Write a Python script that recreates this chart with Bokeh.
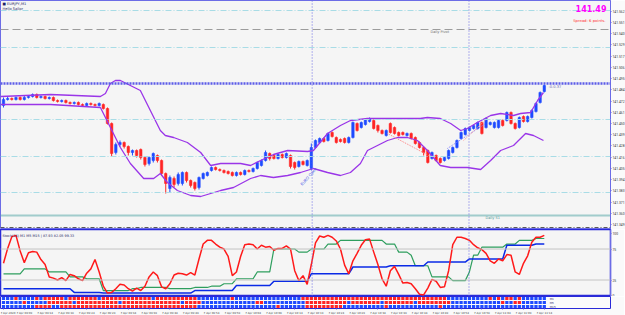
from bokeh.plotting import figure
from bokeh.layouts import column
from bokeh.models import Range1d, Span, Label, FixedTicker, PrintfTickFormatter, ColumnDataSource
from bokeh.embed import file_html
from bokeh.resources import INLINE

# ---------------- data ----------------
symbol_label = "EURJPY,M1"
subtitle_label = "Hello Sailor"
bid_text = "141.49"
spread_text = "Spread: 6 points."
indicator_label = "Stoch(14) M1  M5  M15 | 87.93 82.05 99.33"

bar_open = [141.468,141.474,141.475,141.474,141.476,141.474,141.476,141.477,141.479,141.476,
            141.477,141.475,141.476,141.473,141.472,141.473,141.471,141.470,141.471,141.469,
            141.468,141.470,141.469,141.468,141.469,141.465,141.450,141.421,141.429,141.431,
            141.427,141.421,141.423,141.424,141.416,141.410,141.413,141.418,141.413,141.400,
            141.385,141.395,141.390,141.390,141.401,141.393,141.391,141.386,141.395,141.398,
            141.403,141.406,141.404,141.403,141.402,141.401,141.398,141.401,141.399,141.403,
            141.402,141.405,141.408,141.413,141.420,141.418,141.415,141.419,141.416,141.418,
            141.411,141.407,141.412,141.408,141.405,141.426,141.431,141.435,141.433,141.441,
            141.436,141.434,141.435,141.431,141.436,141.450,141.446,141.449,141.452,141.453,
            141.448,141.443,141.438,141.450,141.446,141.441,141.441,141.438,141.440,141.436,
            141.431,141.426,141.423,141.415,141.418,141.415,141.413,141.415,141.421,141.426,
            141.435,141.439,141.443,141.445,141.445,141.451,141.446,141.449,141.446,141.446,
            141.453,141.453,141.461,141.450,141.446,141.457,141.452,141.456,141.462,141.471,
            141.482]
bar_close = [141.474,141.475,141.474,141.476,141.474,141.476,141.477,141.479,141.476,141.477,
             141.475,141.476,141.473,141.472,141.473,141.471,141.470,141.471,141.469,141.468,
             141.470,141.469,141.468,141.470,141.465,141.450,141.420,141.429,141.431,141.427,
             141.421,141.423,141.418,141.416,141.409,141.416,141.420,141.413,141.400,141.390,
             141.396,141.389,141.399,141.401,141.393,141.388,141.385,141.396,141.400,141.401,
             141.406,141.404,141.403,141.401,141.400,141.398,141.401,141.399,141.403,141.402,
             141.405,141.411,141.413,141.421,141.415,141.415,141.419,141.416,141.420,141.407,
             141.406,141.412,141.409,141.413,141.426,141.433,141.435,141.432,141.440,141.437,
             141.431,141.432,141.431,141.436,141.451,141.443,141.451,141.454,141.455,141.445,
             141.443,141.440,141.443,141.441,141.440,141.438,141.439,141.440,141.435,141.430,
             141.426,141.421,141.411,141.421,141.413,141.411,141.416,141.423,141.426,141.433,
             141.441,141.445,141.446,141.448,141.451,141.440,141.455,141.451,141.451,141.453,
             141.448,141.461,141.450,141.445,141.456,141.452,141.457,141.463,141.470,141.481,
             141.488]
bar_high = [141.476,141.477,141.476,141.477,141.477,141.478,141.478,141.480,141.480,141.478,
            141.478,141.477,141.477,141.474,141.474,141.474,141.472,141.472,141.472,141.470,
            141.471,141.471,141.470,141.471,141.470,141.466,141.451,141.431,141.433,141.432,
            141.428,141.424,141.424,141.425,141.417,141.417,141.421,141.419,141.414,141.401,
            141.398,141.397,141.401,141.402,141.402,141.394,141.392,141.397,141.401,141.402,
            141.407,141.407,141.405,141.404,141.403,141.402,141.402,141.402,141.404,141.404,
            141.406,141.412,141.414,141.423,141.421,141.419,141.420,141.420,141.421,141.419,
            141.412,141.413,141.413,141.414,141.430,141.434,141.436,141.436,141.441,141.442,
            141.437,141.435,141.436,141.437,141.452,141.451,141.452,141.455,141.456,141.454,
            141.449,141.444,141.444,141.451,141.447,141.442,141.442,141.441,141.441,141.437,
            141.432,141.427,141.424,141.422,141.419,141.416,141.417,141.424,141.427,141.434,
            141.442,141.446,141.447,141.449,141.452,141.452,141.456,141.452,141.452,141.454,
            141.454,141.462,141.462,141.451,141.457,141.458,141.458,141.464,141.471,141.482,
            141.489]
bar_low = [141.466,141.473,141.473,141.473,141.473,141.473,141.475,141.476,141.475,141.475,
           141.474,141.474,141.472,141.471,141.471,141.470,141.469,141.469,141.468,141.467,
           141.467,141.468,141.467,141.467,141.464,141.449,141.417,141.419,141.427,141.425,
           141.418,141.418,141.416,141.414,141.407,141.408,141.411,141.411,141.398,141.380,
           141.381,141.386,141.388,141.388,141.391,141.386,141.383,141.384,141.394,141.397,
           141.402,141.403,141.402,141.400,141.399,141.397,141.397,141.398,141.398,141.401,
           141.401,141.404,141.407,141.412,141.413,141.414,141.414,141.415,141.415,141.405,
           141.404,141.406,141.408,141.407,141.403,141.425,141.430,141.431,141.432,141.436,
           141.430,141.431,141.430,141.430,141.435,141.442,141.445,141.448,141.451,141.444,
           141.441,141.439,141.437,141.440,141.439,141.437,141.438,141.437,141.434,141.429,
           141.425,141.418,141.410,141.414,141.412,141.410,141.412,141.414,141.420,141.425,
           141.434,141.438,141.442,141.444,141.444,141.439,141.445,141.448,141.445,141.445,
           141.447,141.452,141.449,141.444,141.445,141.451,141.451,141.455,141.461,141.470,
           141.481]

# Bollinger bands (bar position, price)
upper_x = [-0.7, 11.3, 23.3, 24.5, 25.7, 26.9, 28.1, 32.9, 35.3, 37.7, 38.9, 40.9, 44.2, 47.4, 49.8,
           52.2, 57.0, 59.4, 61.8, 64.9, 68.3, 73.1, 74.5, 77.9, 81.0, 83.4, 87.5, 91.3, 95.4, 100.2,
           101.9, 105.0, 107.5, 109.9, 111.5, 113.9, 117.1, 119.5, 122.6, 124.3, 126.7, 128.4, 129.8]
upper_y = [141.477, 141.479, 141.477, 141.480, 141.490, 141.493, 141.493, 141.483, 141.463, 141.443,
           141.438, 141.436, 141.431, 141.421, 141.408, 141.410, 141.410, 141.408, 141.413, 141.419,
           141.423, 141.422, 141.423, 141.440, 141.448, 141.453, 141.455, 141.455, 141.455, 141.455,
           141.456, 141.455, 141.450, 141.443, 141.445, 141.451, 141.458, 141.460, 141.458, 141.460,
           141.461, 141.473, 141.481]
lower_x = [-0.7, 11.3, 23.3, 25.7, 28.1, 30.5, 33.7, 36.1, 37.7, 39.4, 41.8, 45.0, 47.4, 49.8, 52.2,
           55.3, 59.4, 61.8, 64.9, 68.3, 71.4, 74.5, 77.9, 81.0, 83.4, 85.8, 87.5, 89.9, 92.3, 94.7,
           97.1, 99.5, 101.9, 105.0, 107.5, 111.5, 114.7, 117.1, 119.5, 122.6, 125.5, 127.4, 129.8]
lower_y = [141.469, 141.469, 141.466, 141.446, 141.426, 141.410, 141.395, 141.395, 141.400, 141.391,
           141.383, 141.378, 141.377, 141.380, 141.383, 141.386, 141.395, 141.398, 141.396, 141.398,
           141.401, 141.405, 141.401, 141.398, 141.401, 141.410, 141.423, 141.428, 141.433, 141.436,
           141.436, 141.433, 141.423, 141.408, 141.406, 141.406, 141.404, 141.413, 141.423, 141.428,
           141.440, 141.438, 141.433]

# zigzag pattern legs (bar position, price)
leg1_x, leg1_y = [92.3, 102.2], [141.440, 141.418]
leg2_x, leg2_y = [106.7, 115.9], [141.425, 141.450]
leg3_x, leg3_y = [110.6, 116.5], [141.433, 141.456]

# horizontal levels
level_prices = [141.563, 141.544, 141.526, 141.490, 141.454, 141.417, 141.381, 141.358, 141.346]
level_kinds = ["band", "pivot", "band", "bid", "band", "band", "band", "s1", "low"]

price_ticks = [141.562, 141.551, 141.540, 141.529, 141.517, 141.506, 141.495, 141.484, 141.472, 141.461,
               141.450, 141.439, 141.428, 141.416, 141.405, 141.394, 141.383, 141.371, 141.360, 141.349]

session_marks = [74.2, 111.9]

# indicator lines (per bar, 0..100)
stoch_red = [52, 76, 95, 97, 72, 53, 69, 71, 70, 58, 50, 30, 28, 25, 29, 24, 34, 32, 27, 24,
             36, 43, 58, 38, 15, 4, 5, 11, 18, 17, 11, 7, 12, 8, 15, 30, 38, 32, 14, 11,
             19, 33, 36, 35, 33, 37, 33, 59, 83, 89, 89, 83, 78, 75, 63, 32, 38, 63, 82, 83,
             82, 75, 81, 78, 79, 73, 76, 76, 80, 75, 40, 24, 32, 18, 50, 85, 96, 94, 97, 94,
             88, 75, 49, 35, 56, 68, 81, 90, 91, 70, 50, 27, 15, 40, 47, 34, 20, 21, 19, 11,
             2, 1, 12, 26, 23, 13, 14, 40, 82, 94, 94, 92, 89, 82, 77, 74, 68, 56, 52, 59,
             56, 66, 65, 38, 34, 52, 64, 86, 94, 94, 97]
stoch_green = [35, 35, 35, 35, 35, 43, 43, 43, 43, 43, 43, 38, 38, 38, 38, 38, 30, 30, 30, 30,
               27, 27, 27, 27, 8, 8, 8, 8, 8, 8, 8, 11, 11, 13, 13, 13, 13, 13, 13, 13,
               11, 11, 11, 11, 11, 11, 13, 13, 13, 13, 15, 15, 15, 19, 19, 19, 27, 27, 27, 27,
               27, 38, 38, 38, 38, 75, 75, 75, 75, 75, 75, 70, 70, 70, 75, 75, 75, 75, 83, 83,
               83, 89, 89, 89, 89, 89, 89, 89, 89, 89, 89, 89, 83, 83, 83, 70, 70, 70, 65, 48,
               48, 48, 48, 30, 30, 30, 30, 30, 24, 24, 24, 24, 38, 65, 65, 78, 78, 78, 78, 78,
               78, 83, 83, 83, 89, 89, 89, 89, 92, 92, 92]
stoch_blue = [11, 11, 11, 11, 11, 11, 11, 11, 11, 11, 11, 11, 11, 11, 11, 11, 11, 5, 5, 5,
              5, 5, 5, 5, 4, 4, 4, 4, 4, 4, 4, 4, 4, 4, 4, 4, 4, 4, 4, 4,
              4, 4, 4, 4, 4, 4, 8, 8, 8, 8, 8, 8, 8, 8, 8, 8, 16, 16, 16, 16,
              16, 16, 16, 16, 16, 23, 23, 23, 23, 23, 23, 23, 23, 23, 35, 35, 35, 35, 35, 35,
              35, 35, 35, 35, 46, 46, 46, 46, 46, 46, 46, 46, 46, 48, 48, 48, 48, 48, 48, 48,
              48, 48, 54, 54, 54, 54, 54, 54, 54, 54, 54, 54, 59, 59, 59, 59, 59, 59, 59, 59,
              59, 81, 81, 81, 81, 81, 81, 81, 83, 83, 83]
stoch_levels = [75, 25]
stoch_ticks = [0, 25, 75, 100]

# trend heat-map rows (B = bullish, R = bearish)
heat_rows = [
    "BBBRBBBBRB" "RRRRRBRRRR" "RRRBRRRRRR" "RRRRRRBRRR" "RRRRRRRBBB" "BBBBBRBBBB" "BBBBBBBBBB"
    "BBRRRRRRRR" "RRRRRRRRRR" "RRRRRRRRRR" "RRRRRRRBBB" "BBBBBBBRBR" "BRRBRBBBBB" "B",
    "BBBBBRBBBB" "BRRRRRRBRR" "RRRRRRRRBR" "RRRRRRRRRR" "RRRBRRRRBB" "BBBBBBBBBB" "BRRBBBBBBB"
    "BBBRRRRRRR" "RRRBRRRRRR" "RBRRRRRRRB" "RRRRRRRRBB" "BBBBBBBBBB" "RBBRRBBBBB" "B",
    "BBBBBBBBRR" "RRBBRRRRRR" "RRRRRRRRRR" "RRRRRRRRRR" "RRRRRRRBBB" "BBBBBBBBBB" "BBBBBBRBBB"
    "BBBRRRRRRR" "RRBBBBBBBB" "BBRBBBBBBB" "BBBBBRBBBB" "BBBBBBBBBB" "BBBBBBBBBB" "B",
]
heat_labels = ["M1", "M5", "M15"]

time_tick_bars = [0, 5, 10, 15, 20, 25, 30, 35, 40, 45, 50, 55, 60, 65, 70, 75, 80, 85, 90, 95,
                  100, 105, 110, 115, 120, 125, 130]
time_tick_labels = ["7 Apr 2020", "7 Apr 09:09", "7 Apr 09:14", "7 Apr 09:19", "7 Apr 09:24",
                    "7 Apr 09:29", "7 Apr 09:34", "7 Apr 09:39", "7 Apr 09:44", "7 Apr 09:49",
                    "7 Apr 09:54", "7 Apr 09:59", "7 Apr 10:04", "7 Apr 10:09", "7 Apr 10:14",
                    "7 Apr 10:19", "7 Apr 10:24", "7 Apr 10:29", "7 Apr 10:34", "7 Apr 10:39",
                    "7 Apr 10:44", "7 Apr 10:49", "7 Apr 10:54", "7 Apr 10:59", "7 Apr 11:04",
                    "7 Apr 11:09", "7 Apr 11:14"]

# ---------------- styling ----------------
BG = "#F5F5F5"
BORDER = "#FAFAFA"
FRAME = "#6C6CE6"
UP = "#1F4BFF"
DOWN = "#FF2424"
BAND = "#9A35E8"
FONT = "DejaVu Sans"
AXFONT = "Roboto"
FW = 610
X_RANGE = Range1d(-0.72, -0.72 + FW / 4.16)

level_style = {
    "band": dict(line_color="#A8DCE6", line_dash="6 2 1 2", line_width=1),
    "pivot": dict(line_color="#9C9C9C", line_dash="8 4", line_width=1),
    "bid": dict(line_color="#5C5CE8", line_dash="2 1", line_width=2.5),
    "s1": dict(line_color="#4DA3A3", line_dash="1 1", line_width=2),
    "low": dict(line_color="#5A5A5A", line_dash="4 2 1 2", line_width=1),
}
tag_style = {
    "band": ("#B4E2EC", "#30404A"),
    "pivot": ("#3A4646", "#FFFFFF"),
    "bid": ("#0A0AA8", "#FFFFFF"),
    "s1": ("#1E7F7F", "#FFFFFF"),
    "low": ("#111111", "#FFFFFF"),
}


def bar_at(px):  # screen x of the reference -> bar position (annotation placement only)
    return (px - 3) / 4.16


def price_at(py):  # screen y of the reference -> price (annotation placement only)
    return 141.573 - py / 1000.0


def base_fig(h, y_range, right_axis=True, below_axis=False):
    p = figure(frame_width=FW, frame_height=h, x_range=X_RANGE, y_range=y_range,
               x_axis_location="below" if below_axis else None,
               y_axis_location="right" if right_axis else None,
               toolbar_location=None, output_backend="svg",
               min_border=0, min_border_right=14,
               background_fill_color=BG, border_fill_color=BORDER,
               outline_line_color=FRAME, outline_line_width=1)
    p.xgrid.visible = False
    p.ygrid.visible = False
    return p


def style_right_axis(ax, ticks, fmt):
    ax.ticker = FixedTicker(ticks=ticks)
    ax.formatter = PrintfTickFormatter(format=fmt)
    ax.major_label_text_font_size = "3.3px"
    ax.major_label_text_font = AXFONT
    ax.major_label_text_color = "#333333"
    ax.major_tick_out = 1
    ax.major_tick_in = 0
    ax.minor_tick_out = 0
    ax.minor_tick_in = 0
    ax.major_label_standoff = 1
    ax.axis_line_color = FRAME
    ax.major_tick_line_color = FRAME


# ---------------- main price pane ----------------
main = base_fig(229, Range1d(141.344, 141.573))
style_right_axis(main.yaxis[0], price_ticks, "%.3f")

for price, kind in zip(level_prices, level_kinds):
    main.add_layout(Span(location=price, dimension="width", **level_style[kind]))
    bg, fg = tag_style[kind]
    main.add_layout(Label(x=FW + 1, x_units="screen", y=price, y_units="data", text=f"{price:.3f}",
                          text_font_size="3.3px", text_font=AXFONT, text_color=fg,
                          text_baseline="middle", background_fill_color=bg))

for m in session_marks:
    main.add_layout(Span(location=m, dimension="height", line_color="#6A6AE6",
                         line_dash="1 2", line_width=1))

idx = list(range(len(bar_open)))
cols = [UP if c >= o else DOWN for o, c in zip(bar_open, bar_close)]
src = ColumnDataSource(dict(x=idx, o=bar_open, c=bar_close, h=bar_high, l=bar_low, col=cols))
main.segment(x0="x", y0="h", x1="x", y1="l", line_color="col", line_width=1, source=src)
main.vbar(x="x", width=0.6, top="o", bottom="c", fill_color="col", line_color="col",
          line_width=0.5, source=src)

main.line(upper_x, upper_y, line_color=BAND, line_width=1.3)
main.line(lower_x, lower_y, line_color=BAND, line_width=1.3)

main.line(leg1_x, leg1_y, line_color="#FF8080", line_dash="1 1", line_width=1)
main.line(leg2_x, leg2_y, line_color="#8080FF", line_dash="1 1", line_width=1)
main.line(leg3_x, leg3_y, line_color="#FF9090", line_dash="1 1", line_width=1)

texts = [
    ("\u25a0 " + symbol_label, 2, 3.5, "3.6px", "#1E1E64", "left", "normal", 0),
    (subtitle_label, 2, 8.5, "3.6px", "#1E1E64", "left", "normal", 0),
    (bid_text, 606, 7.5, "8px", "#FF00FF", "right", "bold", 0),
    (spread_text, 605, 20, "3.8px", "#FF3030", "right", "normal", 0),
    ("Daily Pivot", 430, 31.5, "3.5px", "#707070", "left", "normal", 0),
    ("Daily S1", 485, 217.5, "3.5px", "#4F9A9A", "left", "normal", 0),
    ("-0.0.37", 548, 85.5, "3.6px", "#6A6AB0", "left", "normal", 0),
    ("EURO Open", 308, 176, "3.8px", "#4A5AE8", "center", "normal", 0.85),
]
for t, px, py, fs, col, al, st, ang in texts:
    main.add_layout(Label(x=bar_at(px), y=price_at(py), text=t, text_font_size=fs, text_font=FONT,
                          text_color=col, text_align=al, text_baseline="middle",
                          text_font_style=st, angle=ang))

# ---------------- indicator pane ----------------
ind = base_fig(67, Range1d(-1.6, 106.5))
ind.outline_line_color = "#2A2AD8"
ind.outline_line_width = 1.5
style_right_axis(ind.yaxis[0], stoch_ticks, "%d")
for lv in stoch_levels:
    ind.add_layout(Span(location=lv, dimension="width", line_color="#C4C4C4", line_width=1))
for m in session_marks:
    ind.add_layout(Span(location=m, dimension="height", line_color="#6A6AE6",
                        line_dash="1 2", line_width=1))
ind.line(idx, stoch_green, line_color="#2E9E5E", line_width=1.2)
ind.line(idx, stoch_blue, line_color="#0A2AE6", line_width=1.5)
ind.line(idx, stoch_red, line_color="#FF1A1A", line_width=1.5)
ind.add_layout(Label(x=bar_at(2), y=96.5, text=indicator_label, text_font_size="3.4px",
                     text_font=FONT, text_color="#1E1E64", text_baseline="middle"))

# ---------------- heat-map strip + time axis ----------------
strip = base_fig(12, Range1d(0, 3), right_axis=False, below_axis=True)
strip.background_fill_color = "#FBFBFB"
strip.outline_line_color = "#2A2AD8"
hx, hy, hc = [], [], []
for r, row in enumerate(heat_rows):
    for i, ch in enumerate(row):
        hx.append(i)
        hy.append(2.5 - r)
        hc.append(UP if ch == "B" else DOWN)
strip.rect(x=hx, y=hy, width=0.78, height=0.8, fill_color=hc, line_color=None)
for r, lab in enumerate(heat_labels):
    strip.add_layout(Label(x=131.3, y=2.5 - r, text=lab, text_font_size="2.8px", text_font=FONT,
                           text_color="#303070", text_baseline="middle"))
xa = strip.xaxis[0]
xa.ticker = FixedTicker(ticks=time_tick_bars)
xa.major_label_overrides = {b: s for b, s in zip(time_tick_bars, time_tick_labels)}
xa.major_label_text_font_size = "2.7px"
xa.major_label_text_font = FONT
xa.major_label_text_color = "#404040"
xa.major_label_text_align = "left"
xa.major_label_standoff = 1
xa.major_tick_out = 1
xa.major_tick_in = 0
xa.minor_tick_out = 0
xa.minor_tick_in = 0
xa.axis_line_color = None
xa.major_tick_line_color = FRAME

layout = column(main, ind, strip, spacing=0)
open("out.html", "w").write(file_html(layout, INLINE, title="EURJPY M1"))
